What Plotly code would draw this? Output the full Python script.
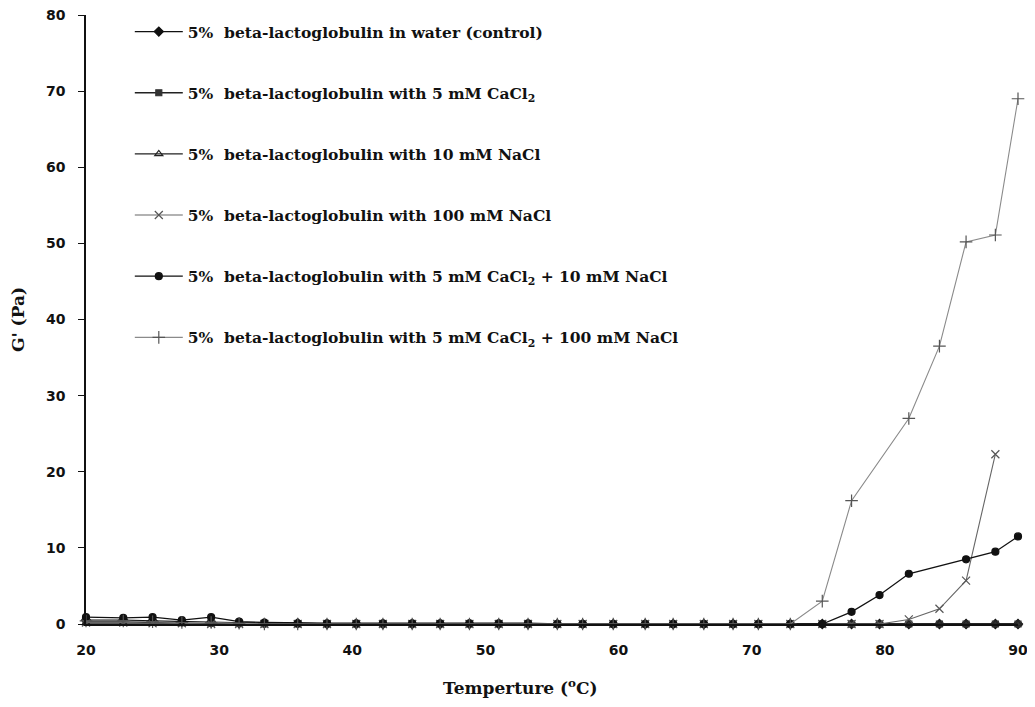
import plotly.graph_objects as go

temperature = [20.0, 22.8, 25.0, 27.2, 29.4, 31.5, 33.4, 35.9, 38.1, 40.3, 42.3,
               44.5, 46.6, 48.8, 51.0, 53.2, 55.4, 57.3, 59.6, 62.0, 64.1, 66.4,
               68.6, 70.5, 72.9, 75.3, 77.5, 79.6, 81.8, 84.1, 86.1, 88.3, 90.0]

control = [0.5, 0.5, 0.4, 0.3, 0.2, 0.1, 0.1, 0.1, 0.0, 0.0, 0.0,
           0.0, 0.0, 0.0, 0.0, 0.0, 0.0, 0.0, 0.0, 0.0, 0.0, 0.0,
           0.0, 0.0, 0.0, 0.0, 0.0, 0.0, 0.0, 0.0, 0.0, 0.0, 0.0]
cacl2_5 = [0.3, 0.3, 0.2, 0.2, 0.1, 0.1, 0.0, 0.0, 0.0, 0.0, 0.0,
           0.0, 0.0, 0.0, 0.0, 0.0, 0.0, 0.0, 0.0, 0.0, 0.0, 0.0,
           0.0, 0.0, 0.0, 0.0, 0.0, 0.0, 0.0, 0.0, 0.0, 0.0, 0.0]
nacl_10 = [0.1, 0.1, 0.1, 0.0, 0.0, 0.0, 0.0, 0.0, 0.0, 0.0, 0.0,
           0.0, 0.0, 0.0, 0.0, 0.0, 0.0, 0.0, 0.0, 0.0, 0.0, 0.0,
           0.0, 0.0, 0.0, 0.0, 0.0, 0.0, 0.0, 0.0, 0.0, 0.0, 0.0]
nacl_100 = [0.2, 0.2, 0.1, 0.1, 0.0, 0.0, 0.0, 0.0, 0.0, 0.0, 0.0,
            0.0, 0.0, 0.0, 0.0, 0.0, 0.0, 0.0, 0.0, 0.0, 0.0, 0.0,
            0.0, 0.0, 0.0, 0.0, 0.0, 0.0, 0.6, 2.0, 5.7, 22.3, None]
cacl2_nacl_10 = [0.9, 0.8, 0.9, 0.5, 0.9, 0.3, 0.2, 0.1, 0.1, 0.1, 0.1,
                 0.1, 0.1, 0.1, 0.1, 0.1, 0.0, 0.0, 0.0, 0.0, 0.0, 0.0,
                 0.0, 0.0, 0.0, 0.0, 1.6, 3.8, 6.6, None, 8.5, 9.5, 11.5]
cacl2_nacl_100 = [0.4, 0.4, 0.3, 0.2, 0.2, 0.1, 0.0, 0.0, 0.0, 0.0, 0.0,
                  0.0, 0.0, 0.0, 0.0, 0.0, 0.0, 0.0, 0.0, 0.0, 0.0, 0.0,
                  0.0, 0.0, 0.0, 3.0, 16.2, None, 27.0, 36.5, 50.2, 51.1, 69.0]

x_ticks = [20, 30, 40, 50, 60, 70, 80, 90]
y_ticks = [0, 10, 20, 30, 40, 50, 60, 70, 80]

series_names = [
    "5%  beta-lactoglobulin in water (control)",
    "5%  beta-lactoglobulin with 5 mM CaCl<sub>2</sub>",
    "5%  beta-lactoglobulin with 10 mM NaCl",
    "5%  beta-lactoglobulin with 100 mM NaCl",
    "5%  beta-lactoglobulin with 5 mM CaCl<sub>2</sub> + 10 mM NaCl",
    "5%  beta-lactoglobulin with 5 mM CaCl<sub>2</sub> + 100 mM NaCl",
]
series_values = [control, cacl2_5, nacl_10, nacl_100, cacl2_nacl_10, cacl2_nacl_100]
styles = [
    dict(symbol="diamond", color="#111111", size=7, line_color="#111111", width=1.3),
    dict(symbol="square", color="#333333", size=6, line_color="#222222", width=1.3),
    dict(symbol="triangle-up-open", color="#222222", size=7, line_color="#222222", width=1.2),
    dict(symbol="x-thin-open", color="#555555", size=8, line_color="#666666", width=1.1),
    dict(symbol="circle", color="#111111", size=7, line_color="#111111", width=1.3),
    dict(symbol="cross-thin-open", color="#555555", size=9, line_color="#8a8a8a", width=1.1),
]

fig = go.Figure()
for i, (name, vals, st) in enumerate(zip(series_names, series_values, styles)):
    fig.add_trace(go.Scatter(
        x=temperature, y=vals, name=name, mode="lines+markers",
        connectgaps=True, legendgroup=f"g{i}", cliponaxis=False,
        line=dict(color=st["line_color"], width=st["width"]),
        marker=dict(symbol=st["symbol"], color=st["color"], size=st["size"],
                    line=dict(color=st["color"], width=1.2)),
    ))

# page body has an 8px margin; size the figure so it fits the 1035x707 window
fig.update_layout(
    width=1019, height=691,
    margin=dict(l=78, r=9, t=7, b=75),
    paper_bgcolor="white", plot_bgcolor="white",
    showlegend=True,
    legend=dict(
        x=0.047, y=1.0, xanchor="left", yanchor="top",
        bgcolor="rgba(0,0,0,0)", tracegroupgap=38, itemwidth=48,
        font=dict(family="DejaVu Serif", size=15.5, color="#111111", weight="bold"),
    ),
    font=dict(family="DejaVu Sans", color="#111111"),
    annotations=[dict(
        text="Temperture (<sup>o</sup>C)", xref="paper", yref="paper",
        x=0.4657, y=0, xanchor="center", yanchor="middle", yshift=-63,
        showarrow=False,
        font=dict(family="DejaVu Serif", size=17, color="#111111", weight="bold"),
    )],
)
fig.update_xaxes(
    range=[20, 90], tickvals=x_ticks, automargin=False,
    showgrid=False, zeroline=False, showline=True, linecolor="#111111", linewidth=1.5,
    ticks="", ticklabelstandoff=12, ticklabeloverflow="allow",
    tickfont=dict(family="DejaVu Sans", size=14, color="#111111", weight="bold"),
)
fig.update_yaxes(
    range=[0, 80], tickvals=y_ticks, automargin=False,
    showgrid=False, zeroline=False, showline=True, linecolor="#111111", linewidth=1.5,
    ticks="outside", ticklen=6, tickcolor="#111111", ticklabelstandoff=10,
    ticklabeloverflow="allow",
    tickfont=dict(family="DejaVu Sans", size=14, color="#111111", weight="bold"),
    title=dict(text="G' (Pa)", standoff=22,
               font=dict(family="DejaVu Serif", size=17, color="#111111", weight="bold")),
)

fig.write_html("out.html")
